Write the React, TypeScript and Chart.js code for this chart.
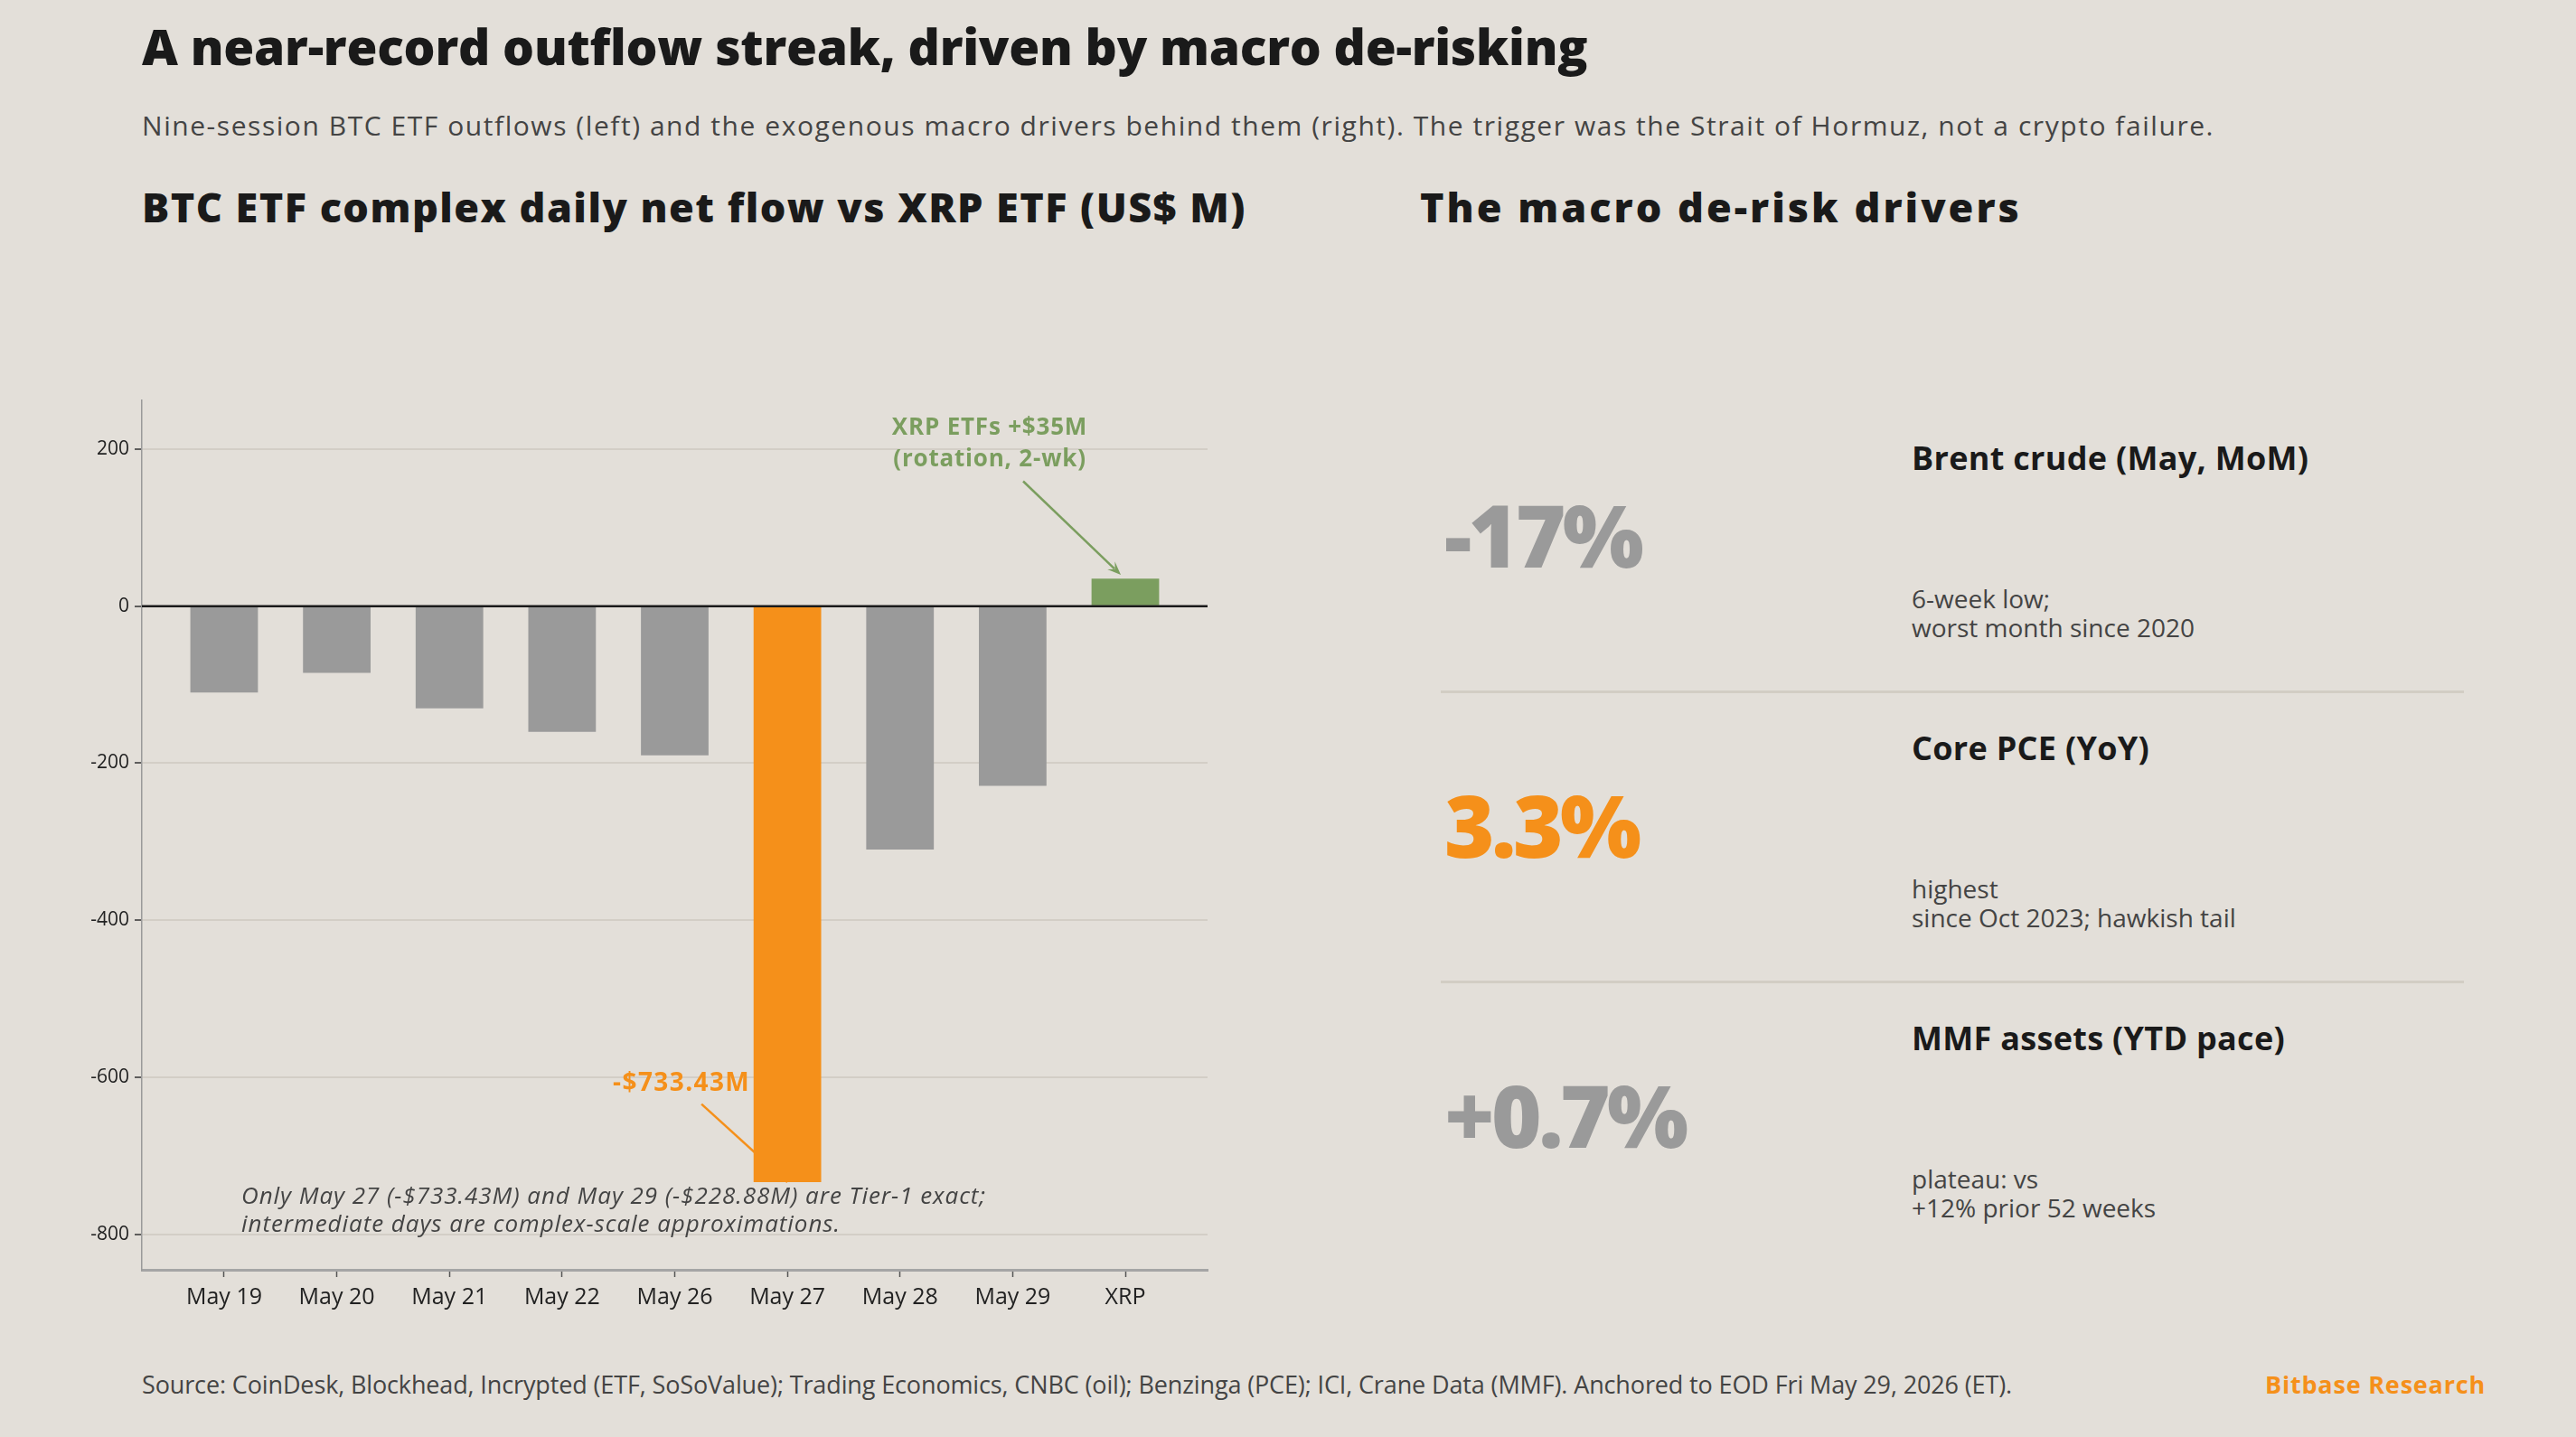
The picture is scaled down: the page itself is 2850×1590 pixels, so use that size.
import React, { useEffect, useRef } from "react";
import { Chart, registerables } from "chart.js";

Chart.register(...registerables);

const FONT = '"Open Sans", "Noto Sans", sans-serif';

// ---------- data ----------
const CATEGORIES = ["May 19", "May 20", "May 21", "May 22", "May 26", "May 27", "May 28", "May 29", "XRP"];
const FLOWS = [-110, -85, -130, -160, -190, -733.43, -310, -228.88, 35];
const Y_TICKS = [200, 0, -200, -400, -600, -800];
const HIGHLIGHT_DAY = "May 27";
const EXACT_DAY_2 = "May 29";
const ROTATION_BAR = "XRP";

const DRIVER_VALUES = ["-17%", "3.3%", "+0.7%"];
const DRIVER_LABELS = ["Brent crude (May, MoM)", "Core PCE (YoY)", "MMF assets (YTD pace)"];
const DRIVER_NOTES = [
  ["6-week low;", "worst month since 2020"],
  ["highest", "since Oct 2023; hawkish tail"],
  ["plateau: vs", "+12% prior 52 weeks"],
];
const DRIVER_ACCENT = [false, true, false];

const TITLE = "A near-record outflow streak, driven by macro de-risking";
const SUBTITLE =
  "Nine-session BTC ETF outflows (left) and the exogenous macro drivers behind them (right). The trigger was the Strait of Hormuz, not a crypto failure.";
const LEFT_TITLE = "BTC ETF complex daily net flow vs XRP ETF (US$ M)";
const RIGHT_TITLE = "The macro de-risk drivers";
const SOURCE =
  "Source: CoinDesk, Blockhead, Incrypted (ETF, SoSoValue); Trading Economics, CNBC (oil); Benzinga (PCE); ICI, Crane Data (MMF). Anchored to EOD Fri May 29, 2026 (ET).";
const BRAND = "Bitbase Research";

// ---------- style ----------
const BG = "#E3DFD9";
const GRAY = "#9A9A9A";
const ORANGE = "#F5901A";
const GREEN = "#7B9E5F";
const DARK = "#1A1A1A";
const TEXT = "#444444";

const fmtNeg = (v: number) => `-$${Math.abs(v).toFixed(2)}M`;

function drawArrow(ctx: CanvasRenderingContext2D, x1: number, y1: number, x2: number, y2: number, color: string) {
  const ang = Math.atan2(y2 - y1, x2 - x1);
  const head = 16;
  ctx.strokeStyle = color;
  ctx.fillStyle = color;
  ctx.lineWidth = 2.5;
  ctx.beginPath();
  ctx.moveTo(x1, y1);
  ctx.lineTo(x2 - Math.cos(ang) * head * 0.6, y2 - Math.sin(ang) * head * 0.6);
  ctx.stroke();
  ctx.beginPath();
  ctx.moveTo(x2, y2);
  ctx.lineTo(x2 - head * Math.cos(ang - 0.38), y2 - head * Math.sin(ang - 0.38));
  ctx.lineTo(x2 - head * 0.55 * Math.cos(ang), y2 - head * 0.55 * Math.sin(ang));
  ctx.lineTo(x2 - head * Math.cos(ang + 0.38), y2 - head * Math.sin(ang + 0.38));
  ctx.closePath();
  ctx.fill();
}

function FlowChart() {
  const ref = useRef<HTMLCanvasElement>(null);
  useEffect(() => {
    if (!ref.current) return;
    const annot = {
      id: "annot",
      beforeDatasetsDraw(chart: any) {
        const { ctx, scales } = chart;
        const x = scales.x;
        const y = scales.y;
        const hi = CATEGORIES.indexOf(HIGHLIGHT_DAY);
        const hx = x.getPixelForValue(hi);
        ctx.save();
        ctx.strokeStyle = ORANGE;
        ctx.lineWidth = 2.5;
        ctx.beginPath();
        ctx.moveTo(hx - 95, y.getPixelForValue(-634));
        ctx.lineTo(hx, y.getPixelForValue(FLOWS[hi]));
        ctx.stroke();
        ctx.restore();
      },
      afterDatasetsDraw(chart: any) {
        const { ctx, chartArea, scales } = chart;
        const x = scales.x;
        const y = scales.y;
        ctx.save();
        // zero line
        const y0 = y.getPixelForValue(0);
        ctx.strokeStyle = DARK;
        ctx.lineWidth = 2.5;
        ctx.beginPath();
        ctx.moveTo(chartArea.left, y0);
        ctx.lineTo(chartArea.right, y0);
        ctx.stroke();

        // XRP annotation
        const xi = CATEGORIES.indexOf(ROTATION_BAR);
        const xx = x.getPixelForValue(xi);
        ctx.fillStyle = GREEN;
        ctx.font = `700 26px ${FONT}`;
        (ctx as any).letterSpacing = "0.8px";
        ctx.textAlign = "center";
        ctx.textBaseline = "middle";
        ctx.fillText(`XRP ETFs +$${FLOWS[xi]}M`, xx - 150, y.getPixelForValue(227));
        ctx.fillText("(rotation, 2-wk)", xx - 150, y.getPixelForValue(186));
        drawArrow(ctx, xx - 113, y.getPixelForValue(159), xx - 5, y.getPixelForValue(40), GREEN);

        // May 27 annotation
        const hi = CATEGORIES.indexOf(HIGHLIGHT_DAY);
        const hx = x.getPixelForValue(hi);
        ctx.fillStyle = ORANGE;
        ctx.font = `700 28px ${FONT}`;
        (ctx as any).letterSpacing = "1.4px";
        ctx.textAlign = "right";
        ctx.fillText(fmtNeg(FLOWS[hi]), hx - 41, y.getPixelForValue(-608));

        // footnote
        const e2 = CATEGORIES.indexOf(EXACT_DAY_2);
        ctx.font = `italic 400 26px ${FONT}`;
        (ctx as any).letterSpacing = "0.95px";
        ctx.fillStyle = TEXT;
        ctx.textAlign = "left";
        const nx = x.getPixelForValue(0) + 19;
        ctx.fillText(
          `Only ${HIGHLIGHT_DAY} (${fmtNeg(FLOWS[hi])}) and ${EXACT_DAY_2} (${fmtNeg(FLOWS[e2])}) are Tier-1 exact;`,
          nx,
          y.getPixelForValue(-753)
        );
        ctx.fillText("intermediate days are complex-scale approximations.", nx, y.getPixelForValue(-788));
        ctx.restore();
      },
    };

    const chart = new Chart(ref.current, {
      type: "bar",
      data: {
        datasets: [
          {
            data: FLOWS.map((v, i) => ({ x: i, y: v })),
            backgroundColor: CATEGORIES.map((c) => (c === HIGHLIGHT_DAY ? ORANGE : c === ROTATION_BAR ? GREEN : GRAY)),
            barPercentage: 0.6,
            categoryPercentage: 1,
            borderWidth: 0,
          } as any,
        ],
      },
      options: {
        responsive: false,
        animation: false,
        devicePixelRatio: 1,
        layout: { padding: { left: 57, right: 64, top: 43, bottom: 15 } },
        plugins: { legend: { display: false }, tooltip: { enabled: false } },
        scales: {
          x: {
            type: "linear",
            offset: false,
            min: -0.73,
            max: CATEGORIES.length - 1 + 0.73,
            afterBuildTicks: (a: any) => {
              a.ticks = CATEGORIES.map((_, i) => ({ value: i }));
            },
            afterFit: (s: any) => {
              s.height = 80;
            },
            ticks: {
              callback: (v: any) => CATEGORIES[v],
              autoSkip: false,
              maxRotation: 0,
              font: { family: FONT, size: 25 },
              color: "#222",
              padding: 8,
            },
            grid: { offset: false, drawOnChartArea: false, tickLength: 8, tickColor: "#555", tickWidth: 1.5 },
            border: { color: "#A5A5A5", width: 3 },
          },
          y: {
            min: -845,
            max: 262,
            afterBuildTicks: (a: any) => {
              a.ticks = Y_TICKS.map((v) => ({ value: v }));
            },
            afterFit: (s: any) => {
              s.width = 100;
            },
            ticks: {
              font: { family: FONT, size: 21 },
              color: "#222",
              padding: 6,
              callback: (v: any) => String(v),
            },
            grid: {
              color: (c: any) => (c.tick && c.tick.value === 0 ? "rgba(0,0,0,0)" : "#D3CEC6"),
              lineWidth: 2,
              tickColor: "#333",
              tickLength: 8,
              tickWidth: 1.5,
            },
            border: { color: "#9A9A9A", width: 1.5 },
          },
        },
      } as any,
      plugins: [annot],
    });
    return () => chart.destroy();
  }, []);
  return (
    <canvas
      ref={ref}
      width={1400}
      height={1100}
      style={{ position: "absolute", left: 0, top: 400, width: 1400, height: 1100 }}
    />
  );
}

type TProps = {
  x: number;
  base: number;
  size: number;
  weight?: number;
  color?: string;
  italic?: boolean;
  align?: "left" | "right";
  ls?: number;
  children: React.ReactNode;
};

function T({ x, base, size, weight = 400, color = DARK, italic, align = "left", ls = 0, children }: TProps) {
  return (
    <div
      style={{
        position: "absolute",
        left: align === "left" ? x : undefined,
        right: align === "right" ? 2850 - x : undefined,
        top: base - 0.888 * size,
        fontSize: size,
        lineHeight: `${size}px`,
        fontWeight: weight,
        fontStyle: italic ? "italic" : "normal",
        color,
        whiteSpace: "nowrap",
        letterSpacing: ls,
      }}
    >
      {children}
    </div>
  );
}

export default function App() {
  useEffect(() => {
    document.body.style.margin = "0";
    document.body.style.overflow = "hidden";
    document.body.style.background = BG;
  }, []);
  const rowStep = 321;
  return (
    <div
      style={{
        position: "relative",
        width: 2850,
        height: 1590,
        background: BG,
        overflow: "hidden",
        fontFamily: FONT,
      }}
    >
      <T x={157} base={72} size={55} weight={800} ls={-0.25}>
        {TITLE}
      </T>
      <T x={157} base={151} size={30} color={TEXT} ls={1.55}>
        {SUBTITLE}
      </T>
      <T x={157} base={246} size={45} weight={800} ls={1.45}>
        {LEFT_TITLE}
      </T>
      <T x={1571} base={246} size={45} weight={800} ls={3.0}>
        {RIGHT_TITLE}
      </T>

      <FlowChart />

      {DRIVER_VALUES.map((v, i) => (
        <React.Fragment key={i}>
          <T
            x={1598}
            base={628 + rowStep * i}
            size={95}
            weight={800}
            ls={-3.6}
            color={DRIVER_ACCENT[i] ? ORANGE : GRAY}
          >
            {v}
          </T>
          <T x={2115} base={521 + rowStep * i} size={36} weight={700} ls={0.3}>
            {DRIVER_LABELS[i]}
          </T>
          <T x={2115} base={673 + rowStep * i} size={28} color={TEXT}>
            {DRIVER_NOTES[i][0]}
          </T>
          <T x={2115} base={705 + rowStep * i} size={28} color={TEXT}>
            {DRIVER_NOTES[i][1]}
          </T>
          {i < DRIVER_VALUES.length - 1 && (
            <div
              style={{
                position: "absolute",
                left: 1594,
                width: 1132,
                top: 764 + rowStep * i,
                height: 3,
                background: "#D2CDC4",
              }}
            />
          )}
        </React.Fragment>
      ))}

      <T x={157} base={1542} size={27} color={TEXT} ls={-0.13}>
        {SOURCE}
      </T>
      <T x={2750} base={1542} size={27} weight={700} color={ORANGE} align="right" ls={0.8}>
        {BRAND}
      </T>
    </div>
  );
}
